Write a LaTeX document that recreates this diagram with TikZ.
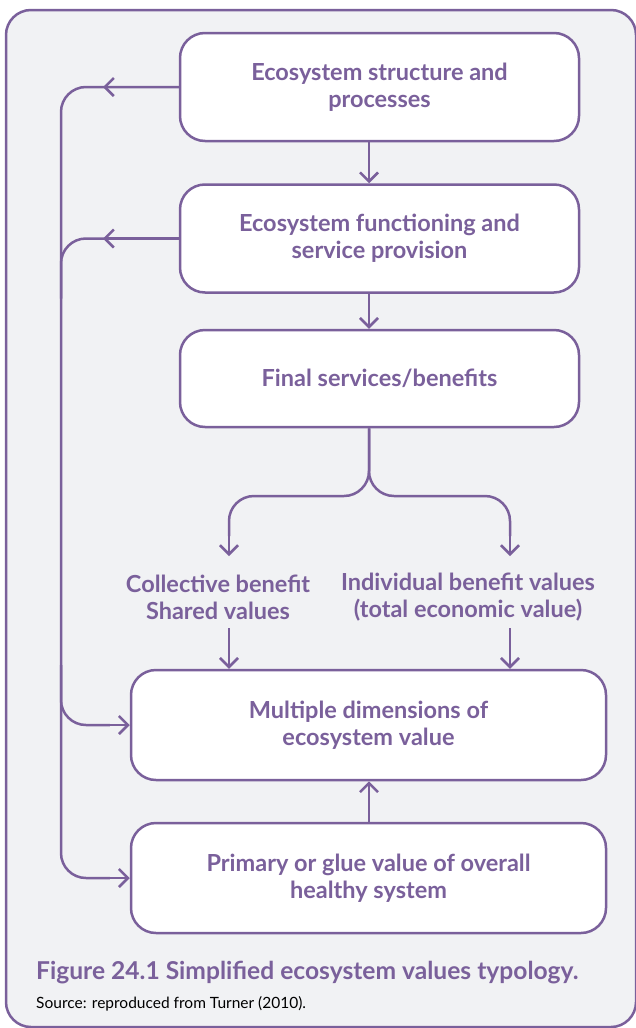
\documentclass[tikz,border=0pt]{standalone}
\usepackage{fontspec}
\setmainfont{Lato}
\usetikzlibrary{arrows.meta,calc}
\definecolor{purp}{RGB}{122,96,155}
\definecolor{bgc}{RGB}{241,242,244}
\begin{document}
\begin{tikzpicture}[x=1pt,y=-1pt,
  box/.style={draw=purp, line width=2.5pt, fill=white, rounded corners=25pt,
    minimum width=399pt, minimum height=108pt, align=center, text=purp,
    font=\fontsize{23.5}{27}\selectfont\bfseries},
  wbox/.style={box, minimum width=475pt, minimum height=110pt},
  lbl/.style={align=center, text=purp, font=\fontsize{23.5}{27}\selectfont\bfseries, inner sep=0pt},
  conn/.style={draw=purp, line width=2.5pt},
  arr/.style={conn, -{Straight Barb[length=9pt,width=18pt,line width=2.5pt]}},
]
\useasboundingbox (0,0) rectangle (635,1028);
\draw[draw=purp, line width=2.5pt, fill=bgc, rounded corners=25pt] (6,10) rectangle (636,1027);

\node[box] (b1) at (379.5,87) {Ecosystem structure and\\processes};
\node[box] (b2) at (379.5,238.5) {Ecosystem functioning and\\service provision};
\node[box, minimum height=97pt] (b3) at (379.5,378.5) {Final services/benefits};
\node[wbox] (b4) at (368.5,725) {Multiple dimensions of\\ecosystem value};
\node[wbox] (b5) at (368.5,878) {Primary or glue value of overall\\healthy system};

\node[lbl] (lc) at (218,597) {Collective benefit\\Shared values};
\node[lbl] (li) at (468,597) {Individual benefit values\\(total economic value)};

\coordinate (xa) at (369,0);
\coordinate (xl) at (229,0);
\coordinate (xr) at (510,0);
\coordinate (xf) at (61,0);
\coordinate (lcT) at (229,556);
\coordinate (liT) at (510,556);
\coordinate (lcB) at (229,628);
\coordinate (liB) at (510,628);
\coordinate (split) at (369,496);

% vertical flow
\draw[arr] (b1.south -| xa) -- (b2.north -| xa);
\draw[arr] (b2.south -| xa) -- (b3.north -| xa);
\draw[conn, rounded corners=25pt] (b3.south -| xa) -- (split) -- (split -| xl) -- ($(lcT)+(0,-20)$);
\draw[arr] ($(lcT)+(0,-21)$) -- (lcT);
\draw[conn, rounded corners=25pt] (b3.south -| xa) -- (split) -- (split -| xr) -- ($(liT)+(0,-20)$);
\draw[arr] ($(liT)+(0,-21)$) -- (liT);
\draw[arr] (lcB) -- (b4.north -| xl);
\draw[arr] (liB) -- (b4.north -| xr);
\draw[arr] (b5.north -| xa) -- (b4.south -| xa);

% feedback line
\draw[conn, rounded corners=25pt] (b1.west) -- (b1.west -| xf) -- (b5.west -| xf) -- ($(b5.west)+(-20,0)$);
\draw[arr] ($(b5.west)+(-21,0)$) -- (b5.west);
\draw[arr] (b1.west) -- ($(b1.west -| xf)+(42,0)$);
\draw[conn, rounded corners=25pt] (b2.west) -- (b2.west -| xf) -- ($(b2.west -| xf)+(0,60)$);
\draw[arr] (b2.west) -- ($(b2.west -| xf)+(42,0)$);
\draw[conn, rounded corners=25pt] ($(b4.west -| xf)+(0,-60)$) -- (b4.west -| xf) -- ($(b4.west)+(-20,0)$);
\draw[arr] ($(b4.west)+(-21,0)$) -- (b4.west);

% caption
\node[anchor=base west, inner sep=0pt, text=purp, font=\fontsize{24.6}{28}\selectfont\bfseries] (cap) at (36,979) {Figure 24.1 Simplified ecosystem values typology.};
\node[anchor=base west, inner sep=0pt, text=black, font=\fontsize{15.5}{18}\selectfont] (src) at (36,1008) {Source: reproduced from Turner (2010).};
\end{tikzpicture}
\end{document}
